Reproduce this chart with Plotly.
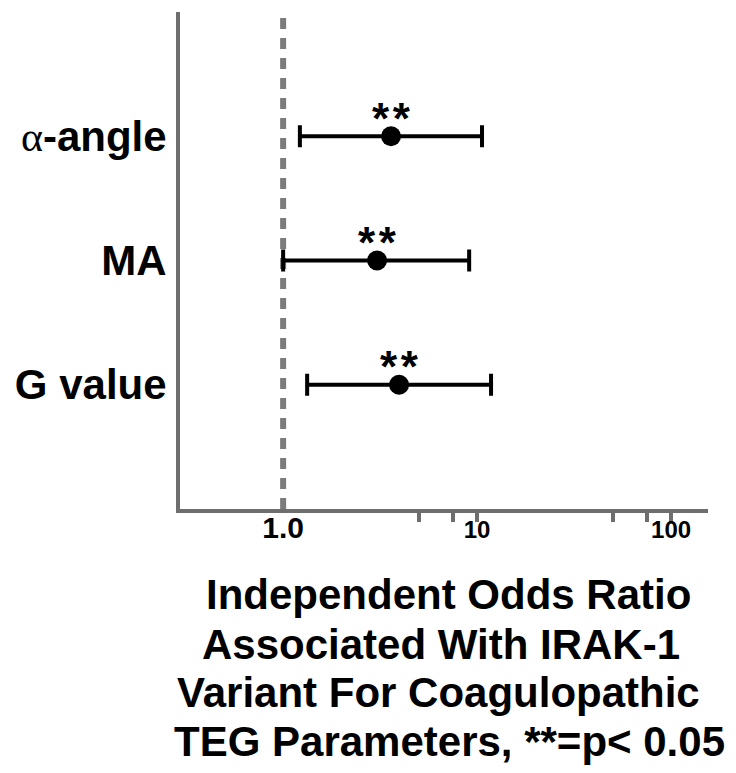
import numpy as np
import plotly.graph_objects as go

# ---- data ----
params = ["α-angle", "MA", "G value"]
odds_ratio = [3.6, 3.05, 3.96]
ci_low = [1.22, 1.0, 1.33]
ci_high = [10.6, 9.1, 11.8]
sig_marks = ["**", "**", "**"]
param_labels = [
    "<span style='font-family:\"Liberation Serif\";font-weight:normal'>α</span>-angle",
    "MA",
    "G value",
]
reference_or = 1.0
x_tickvals = [1, 10, 100]
x_ticktext = ["<span style='font-size:30px'>1.0</span>", "10", "100"]
x_minor_ticks = [5, 7.5, 10, 50, 75, 100]
title_lines = [
    "Independent Odds Ratio",
    "Associated With IRAK-1",
    "Variant For Coagulopathic",
    "TEG Parameters, **=p< 0.05",
]

# row positions (top to bottom) and y range
rows = list(range(len(params), 0, -1))
y_range = [0, len(params) + 1]

# page body has an 8px default margin; lay the figure out to compensate
OFF = 8
W, H = 736 - OFF, 773 - OFF
ML, MT = 180 - OFF, 12 - OFF
PLOT_RIGHT, PLOT_BOTTOM = 708 - OFF, 509 - OFF
MR, MB = W - PLOT_RIGHT, H - PLOT_BOTTOM
PW, PH = W - ML - MR, H - MT - MB
AXIS_GRAY = "#6e6e6e"
FONT = "Liberation Sans, Arial, sans-serif"

err_plus = [h - o for h, o in zip(ci_high, odds_ratio)]
err_minus = [o - l for o, l in zip(odds_ratio, ci_low)]

fig = go.Figure()
# reference line at OR = 1
fig.add_trace(go.Scatter(
    x=[reference_or, reference_or], y=y_range, mode="lines",
    line=dict(color="#7c7c7c", width=6, dash="11px,9px"), hoverinfo="skip",
))
fig.add_trace(go.Scatter(
    x=odds_ratio, y=rows, mode="markers",
    marker=dict(color="black", size=20),
    error_x=dict(type="data", symmetric=False, array=err_plus, arrayminus=err_minus,
                 color="black", thickness=4, width=11),
    hoverinfo="skip",
))

# significance marks (asterisks slightly spaced, as in the reference)
for r, o, s in zip(rows, odds_ratio, sig_marks):
    fig.add_annotation(x=np.log10(o), y=r, xref="x", yref="y", text="\u200a".join(s),
                       showarrow=False, yshift=18,
                       font=dict(family=FONT, size=44, color="black", weight="bold"))

# multi-line axis title (screen-pixel centres from the reference)
title_centers = [448, 441, 438, 449]
title_ys = [594, 644, 692, 741]
for t, cx, cy in zip(title_lines, title_centers, title_ys):
    fig.add_annotation(x=(cx - OFF - ML) / PW, y=(MT + PH - (cy - OFF)) / PH,
                       xref="paper", yref="paper",
                       text=t, showarrow=False, xanchor="center", yanchor="middle",
                       font=dict(family=FONT, size=42, color="black", weight="bold"))

fig.update_xaxes(
    type="log", range=[np.log10(0.294), np.log10(155)], automargin=False,
    showline=True, linecolor=AXIS_GRAY, linewidth=4, mirror=False,
    showgrid=False, zeroline=False,
    tickmode="array", tickvals=x_tickvals, ticktext=x_ticktext, ticks="",
    tickfont=dict(family=FONT, size=24, color="black", weight="bold"),
    ticklabelstandoff=-4,
    minor=dict(tickmode="array", tickvals=x_minor_ticks, ticks="outside", ticklen=9,
               tickwidth=4, tickcolor=AXIS_GRAY, showgrid=False),
)
fig.update_yaxes(
    range=y_range, automargin=False,
    showline=True, linecolor=AXIS_GRAY, linewidth=4,
    showgrid=False, zeroline=False, ticks="",
    tickmode="array", tickvals=rows, ticktext=param_labels,
    tickfont=dict(family=FONT, size=42, color="black", weight="bold"),
    ticklabelstandoff=1,
)
fig.update_layout(
    width=W, height=H, margin=dict(l=ML, r=MR, t=MT, b=MB, autoexpand=False),
    plot_bgcolor="white", paper_bgcolor="white", showlegend=False,
    font=dict(family=FONT),
)
fig.write_html("out.html")
